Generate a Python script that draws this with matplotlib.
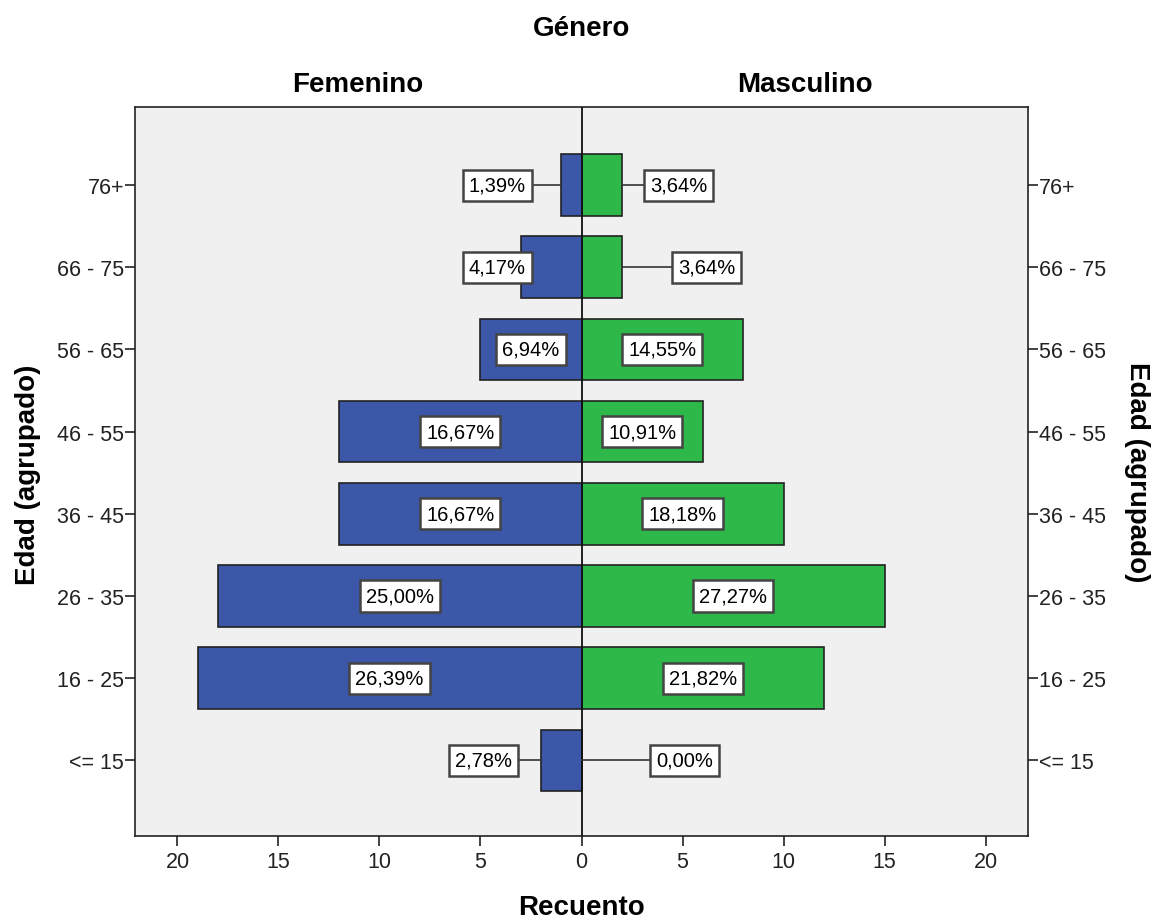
import matplotlib.pyplot as plt

plt.rcParams['font.family'] = ['Liberation Sans', 'DejaVu Sans']

# datos
edades = ['<= 15', '16 - 25', '26 - 35', '36 - 45', '46 - 55', '56 - 65', '66 - 75', '76+']
femenino = [2, 19, 18, 12, 12, 5, 3, 1]
masculino = [0, 12, 15, 10, 6, 8, 2, 2]
pct_fem = ['2,78%', '26,39%', '25,00%', '16,67%', '16,67%', '6,94%', '4,17%', '1,39%']
pct_masc = ['0,00%', '21,82%', '27,27%', '18,18%', '10,91%', '14,55%', '3,64%', '3,64%']
ticks_x = [-20, -15, -10, -5, 0, 5, 10, 15, 20]
ticks_x_lbl = ['20', '15', '10', '5', '0', '5', '10', '15', '20']

# posiciones de etiquetas fuera de la barra (solo barras pequenas)
fuera_fem = {0: -4.85, 6: -4.16, 7: -4.16}
fuera_masc = {0: 5.1, 6: 6.2, 7: 4.8}

azul = '#3c56a8'
verde = '#2eb84a'

fig = plt.figure(figsize=(11.53, 9.2), dpi=100)
ax = fig.add_axes([0.1171, 0.0902, 0.7745, 0.7924])
ax.set_facecolor('#f0f0f0')

y = list(range(len(edades)))
ax.barh(y, [-v for v in femenino], height=0.75, color=azul, edgecolor='#222222', linewidth=1.2, zorder=2)
ax.barh(y, masculino, height=0.75, color=verde, edgecolor='#222222', linewidth=1.2, zorder=2)
ax.axvline(0, color='#111111', lw=1.3, zorder=3)

caja = dict(boxstyle='square,pad=0.3', fc='white', ec='#444444', lw=1.8)
fs = 14.5

for i in y:
    # femenino
    if i in fuera_fem:
        xl = fuera_fem[i]
        ax.plot([xl + 1.6, -femenino[i]], [i, i], color='#333333', lw=1.2, zorder=3)
    else:
        xl = -femenino[i] / 2
    ax.text(xl, i, pct_fem[i], ha='center', va='center', fontsize=fs, bbox=caja, zorder=4)
    # masculino
    if i in fuera_masc:
        xr = fuera_masc[i]
        ax.plot([masculino[i], xr - 1.6], [i, i], color='#333333', lw=1.2, zorder=3)
    else:
        xr = masculino[i] / 2
    ax.text(xr, i, pct_masc[i], ha='center', va='center', fontsize=fs, bbox=caja, zorder=4)

ax.set_xlim(-22.1, 22.1)
ax.set_ylim(-0.92, 7.95)
ax.set_xticks(ticks_x)
ax.set_xticklabels(ticks_x_lbl)
ax.set_yticks(y)
ax.set_yticklabels(edades)
ax.tick_params(axis='both', labelsize=15.5, colors='#222222', length=7, width=1.2)
ax.tick_params(axis='y', right=True, labelright=True, pad=1)
ax.tick_params(axis='x', pad=4)
for s in ax.spines.values():
    s.set_color('#222222')
    s.set_linewidth(1.2)

tf = dict(ha='center', va='center', fontsize=20, fontweight='bold')
fig.text(0.504, 0.969, 'Género', **tf)
fig.text(0.3105, 0.908, 'Femenino', **tf)
fig.text(0.698, 0.908, 'Masculino', **tf)
fig.text(0.504, 0.013, 'Recuento', **tf)
fig.text(0.024, 0.484, 'Edad (agrupado)', rotation=90, **tf)
fig.text(0.986, 0.487, 'Edad (agrupado)', rotation=-90, **tf)

fig.savefig('out.png', dpi=100)
